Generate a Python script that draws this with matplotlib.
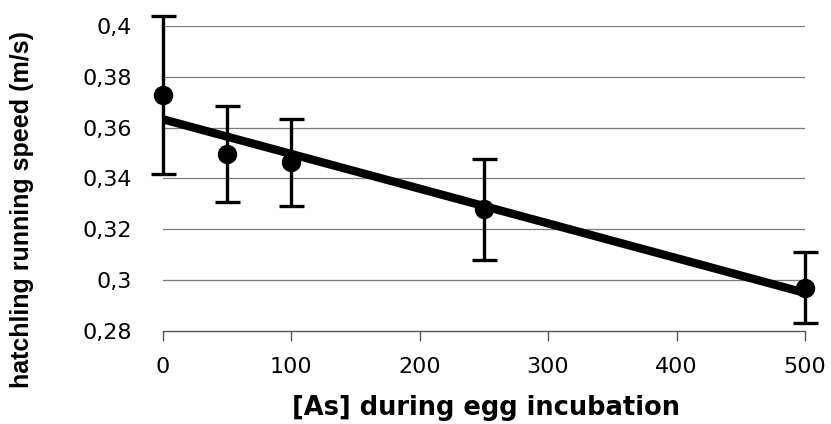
import matplotlib
matplotlib.use("Agg")
import matplotlib.pyplot as plt
import numpy as np
from matplotlib.ticker import FuncFormatter

# data
arsenic = [0, 50, 100, 250, 500]
speed = [0.3728, 0.3496, 0.3463, 0.3278, 0.2969]
err = [0.031, 0.019, 0.017, 0.020, 0.014]
xticks = [0, 100, 200, 300, 400, 500]
yticks = [0.28, 0.30, 0.32, 0.34, 0.36, 0.38, 0.40]
xlabel = "[As] during egg incubation"
ylabel = "hatchling running speed (m/s)"

plt.rcParams['font.family'] = ['DejaVu Sans']

fig = plt.figure(figsize=(8.31, 4.24), dpi=100)
ax = fig.add_axes([162.5/831, 1-330.7/424, (805-162.5)/831, (330.7-26)/424])

for y in yticks[1:]:
    ax.axhline(y, color='#7a7a7a', lw=0.9, zorder=1)

slope, intercept = np.polyfit(arsenic, speed, 1)
xs = np.array([0, 500])
ax.plot(xs, intercept + slope*xs, color='black', lw=6, solid_capstyle='butt', zorder=3)

ax.errorbar(arsenic, speed, yerr=err, fmt='o', color='black', ms=13,
            elinewidth=2.4, capsize=9, capthick=2.4, zorder=4, clip_on=False)

ax.set_xlim(0, 500)
ax.set_ylim(0.28, 0.40)
ax.set_xticks(xticks)
ax.set_yticks(yticks)
ax.yaxis.set_major_formatter(FuncFormatter(lambda v, p: ('%g' % round(v, 2)).replace('.', ',')))
for s in ['top', 'right', 'left']:
    ax.spines[s].set_visible(False)
ax.spines['bottom'].set_color('#555555')
ax.spines['bottom'].set_linewidth(1.0)
ax.tick_params(axis='x', length=7, width=1, color='#555555', labelsize=16, pad=12)
ax.tick_params(axis='y', length=0, labelsize=16, pad=22)

fig.text(486/831, 1-408/424, xlabel, ha='center', va='center', fontsize=18.5, fontweight='bold')
fig.text(22/831, 1-209/424, ylabel, ha='center', va='center', rotation=90, fontsize=18,
         fontweight='bold', family=['Liberation Sans', 'DejaVu Sans'])

fig.savefig('out.png', dpi=100)
